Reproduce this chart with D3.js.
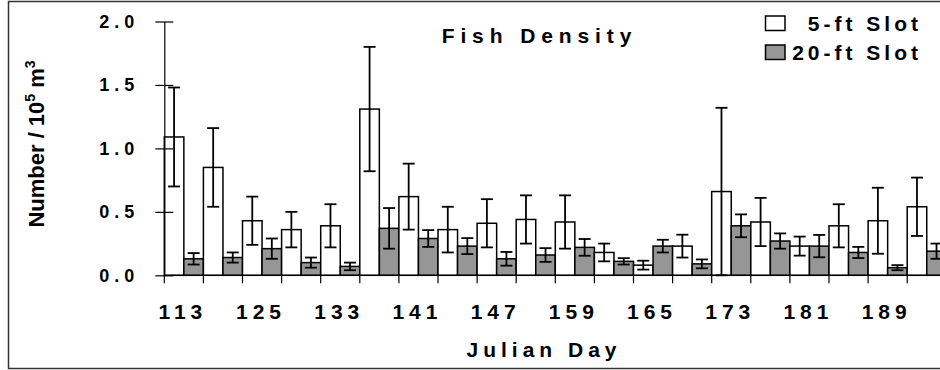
<!DOCTYPE html>
<html>
<head>
<meta charset="utf-8">
<script src="https://cdn.jsdelivr.net/npm/d3@7"></script>
<style>
  body { margin: 0; background: #fff; }
  text { font-family: "Liberation Sans", Arial, sans-serif; font-weight: bold; fill: #000; }
</style>
</head>
<body>
<div id="chart"></div>
<script>
// Julian day labels (only every other category is labelled)
const days = ["113", "", "125", "", "133", "", "141", "", "147", "",
              "159", "", "165", "", "173", "", "181", "", "189", ""]

// 5-ft slot mean density and error
const slot5 = [1.09, 0.85, 0.43, 0.36, 0.39, 1.31, 0.62, 0.36, 0.41, 0.44,
               0.42, 0.18, 0.08, 0.23, 0.66, 0.42, 0.23, 0.39, 0.43, 0.54]
const slot5Err = [0.39, 0.31, 0.19, 0.14, 0.17, 0.49, 0.26, 0.18, 0.19, 0.19,
                  0.21, 0.07, 0.035, 0.09, 0.66, 0.19, 0.075, 0.17, 0.26, 0.23]

// 20-ft slot mean density and error
const slot20 = [0.13, 0.14, 0.21, 0.10, 0.07, 0.37, 0.29, 0.23, 0.13, 0.16,
                0.22, 0.11, 0.23, 0.09, 0.39, 0.27, 0.23, 0.18, 0.06, 0.19]
const slot20Err = [0.045, 0.04, 0.08, 0.04, 0.03, 0.16, 0.066, 0.063, 0.054, 0.054,
                   0.066, 0.025, 0.05, 0.035, 0.09, 0.06, 0.088, 0.044, 0.02, 0.06]

const yTicks = [0, 0.5, 1.0, 1.5, 2.0]
const seriesNames = ["5-ft Slot", "20-ft Slot"]
const seriesFill = ["#ffffff", "#969696"]

const width = 940
const height = 370
const margin = { left: 164.3, top: 21.5, bottom: 94.7 }
const step = 39.1

const svg = d3.select("#chart")
  .append("svg")
    .attr("width", width)
    .attr("height", height)

// outer frame
svg.append("rect")
    .attr("x", 8.5)
    .attr("y", 1.5)
    .attr("width", 1000)
    .attr("height", 367)
    .attr("fill", "none")
    .attr("stroke", "#333")
    .attr("stroke-width", 1.5)

const x = d3.scaleBand()
  .domain(d3.range(days.length))
  .range([margin.left, margin.left + step * days.length])
  .padding(0)

const xSub = d3.scaleBand()
  .domain([0, 1])
  .range([0, x.bandwidth()])

const y = d3.scaleLinear()
  .domain([0, 2])
  .range([height - margin.bottom, margin.top])

// rows: one per bar
const rows = []
days.forEach((d, i) => {
  rows.push({ i, s: 0, v: slot5[i], e: slot5Err[i] })
  rows.push({ i, s: 1, v: slot20[i], e: slot20Err[i] })
})

const bars = svg.append("g")

bars.selectAll("rect")
  .data(rows)
  .join("rect")
    .attr("x", d => x(d.i) + xSub(d.s))
    .attr("y", d => y(d.v))
    .attr("width", xSub.bandwidth())
    .attr("height", d => y(0) - y(d.v))
    .attr("fill", d => seriesFill[d.s])
    .attr("stroke", "#000")
    .attr("stroke-width", 1.5)

// error bars
const cap = 6
const errs = svg.append("g")
    .attr("stroke", "#000")
    .attr("stroke-width", 1.8)

const cx = d => x(d.i) + xSub(d.s) + xSub.bandwidth() / 2

errs.selectAll(".stem")
  .data(rows)
  .join("line")
    .attr("class", "stem")
    .attr("x1", cx)
    .attr("x2", cx)
    .attr("y1", d => y(d.v + d.e))
    .attr("y2", d => y(Math.max(0, d.v - d.e)))

errs.selectAll(".capTop")
  .data(rows)
  .join("line")
    .attr("class", "capTop")
    .attr("x1", d => cx(d) - cap)
    .attr("x2", d => cx(d) + cap)
    .attr("y1", d => y(d.v + d.e))
    .attr("y2", d => y(d.v + d.e))

errs.selectAll(".capBot")
  .data(rows)
  .join("line")
    .attr("class", "capBot")
    .attr("x1", d => cx(d) - cap)
    .attr("x2", d => cx(d) + cap)
    .attr("y1", d => y(Math.max(0, d.v - d.e)))
    .attr("y2", d => y(Math.max(0, d.v - d.e)))

// y axis
const yAxis = svg.append("g")
    .attr("transform", `translate(${margin.left},0)`)
    .call(d3.axisLeft(y)
      .tickValues(yTicks)
      .tickFormat(d3.format(".1f"))
      .tickSize(9)
      .tickSizeOuter(0))

yAxis.select(".domain").attr("stroke", "#000").attr("stroke-width", 1.2)
yAxis.selectAll(".tick line")
    .attr("x1", 9)
    .attr("stroke", "#000")
    .attr("stroke-width", 1.2)
yAxis.selectAll(".tick text")
    .attr("x", -25)
    .style("font-size", "18px")
    .style("letter-spacing", "5px")

// x axis
const xAxis = svg.append("g")
    .attr("transform", `translate(0,${y(0)})`)

xAxis.append("line")
    .attr("x1", margin.left)
    .attr("x2", width)
    .attr("stroke", "#000")
    .attr("stroke-width", 1.2)

xAxis.selectAll(".xtick")
  .data(d3.range(days.length + 1))
  .join("line")
    .attr("class", "xtick")
    .attr("x1", d => margin.left + d * x.step())
    .attr("x2", d => margin.left + d * x.step())
    .attr("y1", 0)
    .attr("y2", 8)
    .attr("stroke", "#000")
    .attr("stroke-width", 1.2)

xAxis.selectAll(".xlabel")
  .data(days.map((d, i) => ({ d, i })).filter(d => d.d !== ""))
  .join("text")
    .attr("class", "xlabel")
    .attr("x", d => x(d.i) + x.bandwidth() / 2 - 1)
    .attr("y", 43.7)
    .attr("text-anchor", "middle")
    .style("font-size", "21px")
    .style("letter-spacing", "5px")
    .text(d => d.d)

// axis titles
svg.append("text")
    .attr("x", 544)
    .attr("y", 357)
    .attr("text-anchor", "middle")
    .style("font-size", "21px")
    .style("letter-spacing", "5px")
    .text("Julian Day")

const yTitle = svg.append("text")
    .attr("transform", "translate(44,144) rotate(-90)")
    .attr("text-anchor", "middle")
    .style("font-size", "22px")

yTitle.append("tspan").text("Number / 10")
yTitle.append("tspan").attr("dy", -9).style("font-size", "14px").text("5")
yTitle.append("tspan").attr("dy", 9).text(" m")
yTitle.append("tspan").attr("dy", -9).style("font-size", "14px").text("3")

// chart title
svg.append("text")
    .attr("x", 539.5)
    .attr("y", 42.7)
    .attr("text-anchor", "middle")
    .style("font-size", "21px")
    .style("letter-spacing", "5.9px")
    .text("Fish Density")

// legend
const legend = svg.append("g")

legend.selectAll("rect")
  .data(seriesNames)
  .join("rect")
    .attr("x", 765.5)
    .attr("y", (d, i) => 16 + i * 29)
    .attr("width", 19.5)
    .attr("height", 14.5)
    .attr("fill", (d, i) => seriesFill[i])
    .attr("stroke", "#000")
    .attr("stroke-width", 1.5)

legend.selectAll("text")
  .data(seriesNames)
  .join("text")
    .attr("x", 922)
    .attr("y", (d, i) => 30.5 + i * 29)
    .attr("text-anchor", "end")
    .style("font-size", "21px")
    .style("letter-spacing", "4px")
    .text(d => d)
</script>
</body>
</html>
